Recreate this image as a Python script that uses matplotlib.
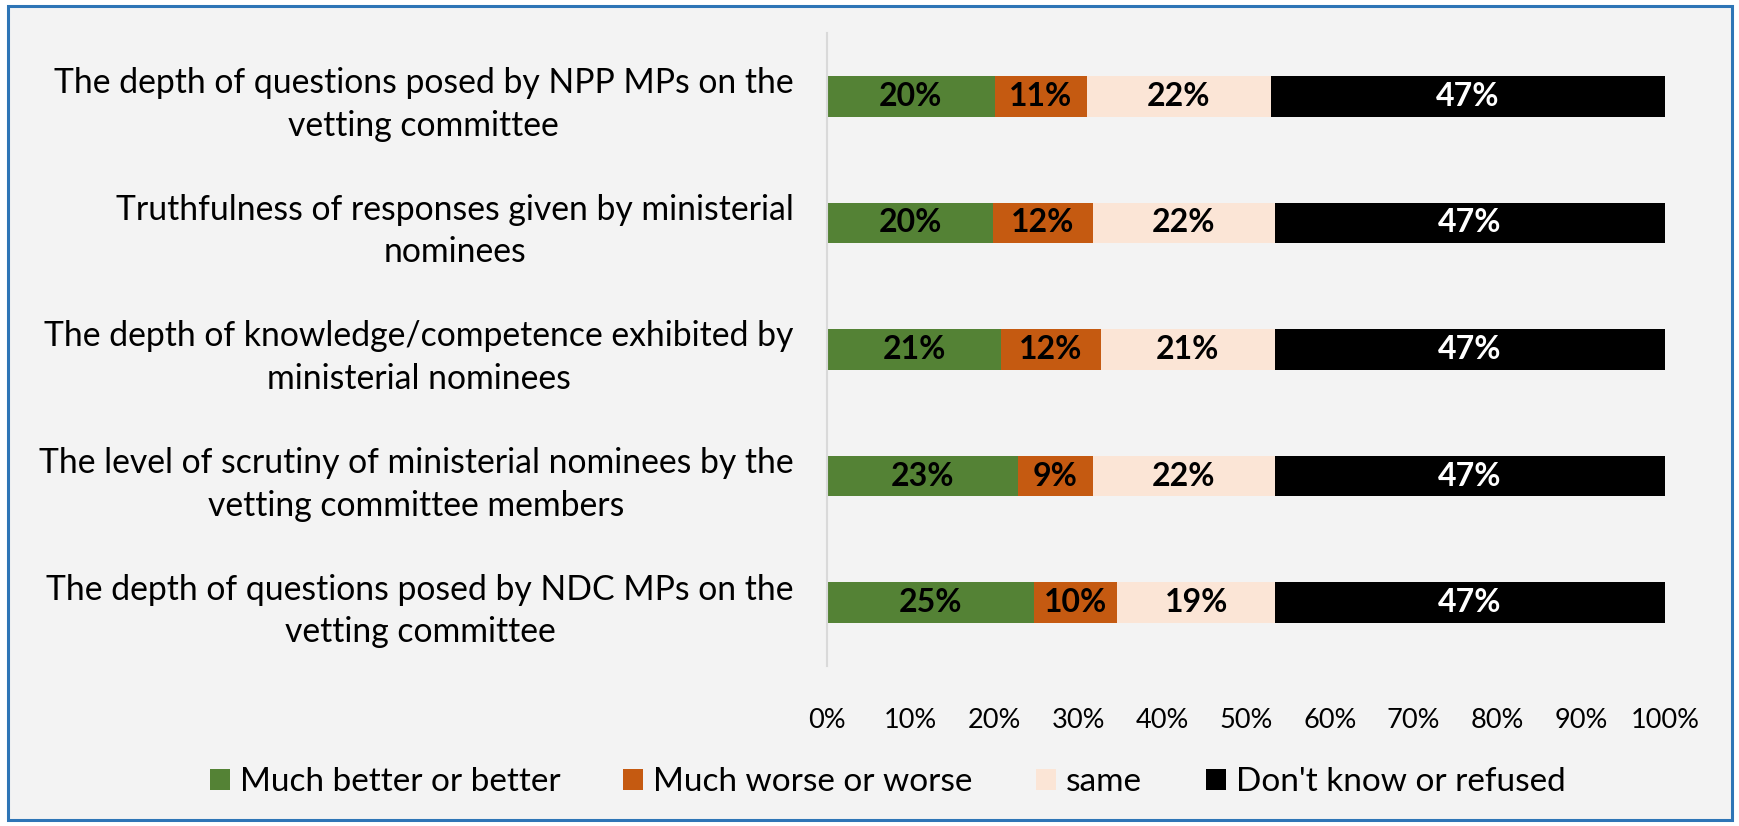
import matplotlib.pyplot as plt
import numpy as np
from matplotlib.patches import Rectangle

plt.rcParams['font.family'] = ['Lato', 'DejaVu Sans']

items = [
    "The depth of questions posed by NPP MPs on the\nvetting committee",
    "Truthfulness of responses given by ministerial\nnominees",
    "The depth of knowledge/competence exhibited by\nministerial nominees",
    "The level of scrutiny of ministerial nominees by the\nvetting committee members",
    "The depth of questions posed by NDC MPs on the\nvetting committee",
]
better = [20, 20, 21, 23, 25]
worse = [11, 12, 12, 9, 10]
same = [22, 22, 21, 22, 19]
dont_know = [47, 47, 47, 47, 47]

series = ["Much better or better", "Much worse or worse", "same", "Don't know or refused"]
colors = ['#548235', '#C55A11', '#FBE5D6', '#000000']
text_colors = ['black', 'black', 'black', 'white']

data = np.array([better, worse, same, dont_know], dtype=float)
shares = data / data.sum(axis=0)  # 100% stacked

fig = plt.figure(figsize=(17.4, 8.26), dpi=100)
fig.patch.set_facecolor('white')
fig.patches.append(Rectangle((8 / 1740, 6 / 826), 1 - 16 / 1740, 1 - 12 / 826,
                             transform=fig.transFigure, facecolor='#f3f3f3',
                             edgecolor='#2E75B6', linewidth=2.2, zorder=-10))

ax = fig.add_axes([827 / 1740, 1 - 666 / 826, (1665 - 827) / 1740, (666 - 33) / 826])
ax.set_facecolor('none')

y = np.arange(len(items))
left = np.zeros(len(items))
for i, name in enumerate(series):
    bars = ax.barh(y, shares[i], left=left, height=0.32, color=colors[i], label=name)
    for j, b in enumerate(bars):
        ax.text(left[j] + shares[i][j] / 2, y[j], f"{int(data[i][j])}%",
                ha='center', va='center', fontsize=23, fontweight='bold',
                color=text_colors[i])
    left += shares[i]

ax.set_xlim(0, 1)
ax.set_ylim(4.5, -0.5)
ax.set_xticks(np.linspace(0, 1, 11))
ax.set_xticklabels([f"{v}%" for v in range(0, 101, 10)], fontsize=19.5)
ax.set_yticks(y)
ax.set_yticklabels(items, fontsize=24.3)
for lab in ax.get_yticklabels():
    lab.set_multialignment('center')
    lab.set_linespacing(1.4)
ax.tick_params(axis='both', length=0)
ax.tick_params(axis='x', pad=30)
ax.tick_params(axis='y', pad=24)

for s in ['top', 'right', 'bottom']:
    ax.spines[s].set_visible(False)
ax.spines['left'].set_color('#d9d9d9')
ax.spines['left'].set_linewidth(1.5)

fig.legend(loc='center', bbox_to_anchor=(0.51, 1 - 782 / 826), ncol=4,
           frameon=False, fontsize=24, handlelength=0.6, handleheight=0.6,
           handletextpad=0.3, columnspacing=1.9)

fig.savefig('out.png', dpi=100)
